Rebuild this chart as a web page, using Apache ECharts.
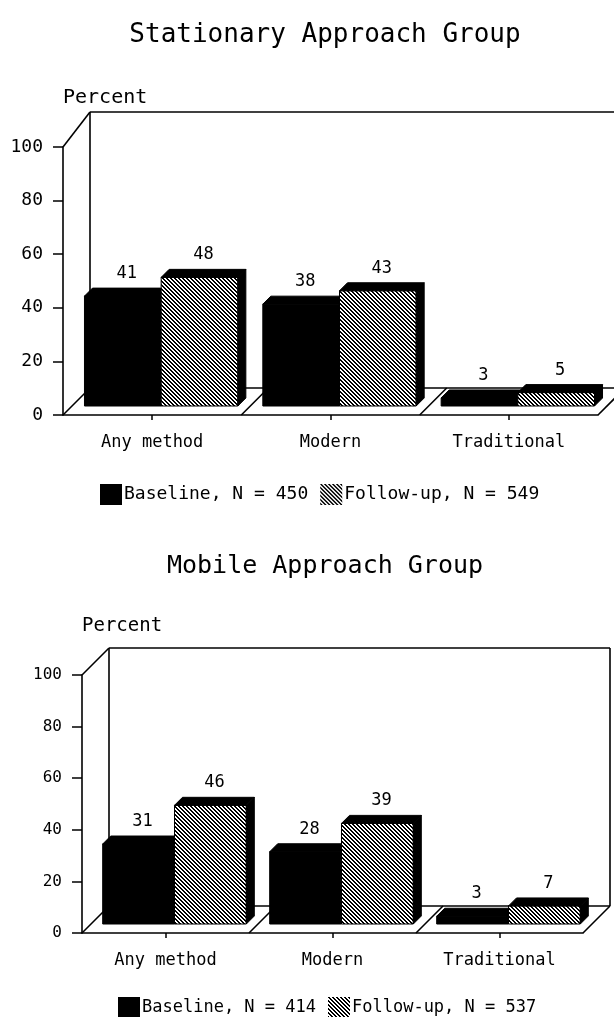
<!DOCTYPE html>
<html><head><meta charset="utf-8">
<script src="https://cdn.jsdelivr.net/npm/echarts@6/dist/echarts.min.js"></script>
<style>html,body{margin:0;padding:0;background:#fff}#c{width:614px;height:1017px}</style>
</head><body><div id="c"></div>
<script>
// ---- data ----
const categories = ['Any method', 'Modern', 'Traditional'];
const stationaryBaseline = [41, 38, 3];
const stationaryFollowup = [48, 43, 5];
const mobileBaseline = [31, 28, 3];
const mobileFollowup = [46, 39, 7];
const yMin = 0, yMax = 100, yInterval = 20;
const panelTitles = ['Stationary Approach Group', 'Mobile Approach Group'];
const yName = 'Percent';
const stationaryNames = ['Baseline, N = 450', 'Follow-up, N = 549'];
const mobileNames = ['Baseline, N = 414', 'Follow-up, N = 537'];

// ---- styling ----
const FONT = 'DejaVu Sans Mono';
function makeHatch() {
  const c = document.createElement('canvas'); c.width = 4; c.height = 4;
  const g = c.getContext('2d');
  g.fillStyle = '#fff'; g.fillRect(0, 0, 4, 4); g.fillStyle = '#000';
  for (let y = 0; y < 4; y++) for (let x = 0; x < 4; x++) {
    if ((((x - y) % 4) + 4) % 4 < 2) g.fillRect(x, y, 1, 1);
  }
  return c;
}
const HATCH = { image: makeHatch(), repeat: 'repeat' };
const BLACK = '#000';

function boxRender(depth, wallTop) {
  return function (params, api) {
    const bw = api.size([1, 0])[0];
    const n = categories.length;
    const c0 = api.coord([0, yMin]);
    const xL = c0[0] - bw / 2, xR = xL + bw * n;
    const y0 = c0[1];
    const yT = api.coord([0, yMax])[1];
    const yW = api.coord([0, wallTop])[1];
    const dx = depth[0], dy = depth[1];
    const ls = { stroke: '#000', lineWidth: 1.6, fill: null };
    const L = (x1, y1, x2, y2) => ({ type: 'line', shape: { x1, y1, x2, y2 }, style: ls });
    const ch = [
      L(xL + dx, y0 + dy, xL + dx, yW + dy),
      L(xL + dx, yW + dy, xR + dx, yW + dy),
      L(xR + dx, y0 + dy, xR + dx, yW + dy),
      L(xL + dx, y0 + dy, xR + dx, y0 + dy),
      L(xL, yT, xL + dx, yW + dy),
      L(xL, y0, xL + dx, y0 + dy),
      L(xR, y0, xR + dx, y0 + dy)
    ];
    for (let i = 1; i < n; i++) {
      const xb = xL + bw * i;
      ch.push(L(xb, y0, xb + dx, y0 + dy));
    }
    return { type: 'group', children: ch };
  };
}

function barRender(si, shift, d, labelSize) {
  return function (params, api) {
    const i = api.value(0), v = api.value(1);
    const bw = api.size([1, 0])[0];
    const w = bw * 0.43;
    const c = api.coord([i, 0]);
    const t = api.coord([i, v]);
    const x0 = c[0] - w + si * w + shift[0], x1 = x0 + w;
    const yb = c[1] + shift[1], yt = t[1] + shift[1];
    return {
      type: 'group',
      children: [
        { type: 'rect', shape: { x: x0, y: yt, width: w, height: yb - yt },
          style: { fill: si ? HATCH : BLACK, stroke: BLACK, lineWidth: 1 } },
        { type: 'polygon', shape: { points: [[x0, yt], [x0 + d, yt - d], [x1 + d, yt - d], [x1, yt]] },
          style: { fill: BLACK, stroke: BLACK, lineWidth: 1 } },
        { type: 'polygon', shape: { points: [[x1, yt], [x1 + d, yt - d], [x1 + d, yb - d], [x1, yb]] },
          style: { fill: BLACK, stroke: BLACK, lineWidth: 1 } },
        { type: 'text', x: (x0 + x1) / 2 + d / 2, y: yt - d - 6,
          style: { text: String(v), fill: '#000', font: labelSize + 'px "' + FONT + '"', align: 'center', verticalAlign: 'bottom' } }
      ]
    };
  };
}

const panels = [
  { grid: { left: 63, top: 147, width: 535, height: 268 }, base: stationaryBaseline, fol: stationaryFollowup,
    names: stationaryNames, title: panelTitles[0], titleTop: 17, titleSize: 26, legendTop: 479, legendLeft: 95,
    fs: 18, legendFs: 18, nameFs: 20, wallTop: 103 },
  { grid: { left: 82, top: 675, width: 501, height: 258 }, base: mobileBaseline, fol: mobileFollowup,
    names: mobileNames, title: panelTitles[1], titleTop: 549, titleSize: 25, legendTop: 992, legendLeft: 113,
    fs: 16, legendFs: 17, nameFs: 19, wallTop: 100 }
];

const depth = [27, -27];
const barShift = [9, -9];
const barDepth = 8;

const option = {
  animation: false,
  backgroundColor: '#fff',
  title: panels.map(p => ({
    text: p.title, left: 320, top: p.titleTop, textAlign: 'center',
    textStyle: { fontFamily: FONT, fontSize: p.titleSize, fontWeight: 'normal', color: '#000' }
  })),
  legend: panels.map(p => ({
    data: [{ name: p.names[0], itemStyle: { color: BLACK } }, { name: p.names[1], itemStyle: { color: HATCH } }],
    left: p.legendLeft, top: p.legendTop, icon: 'rect', itemWidth: 22, itemHeight: 21, itemGap: 12,
    selectedMode: false,
    textStyle: { fontFamily: FONT, fontSize: p.legendFs, color: '#000', padding: [0, 0, 0, -3] }
  })),
  grid: panels.map(p => p.grid),
  xAxis: panels.map((p, k) => ({
    type: 'category', gridIndex: k, data: categories,
    axisLine: { show: true, lineStyle: { color: '#000', width: 1.6 } },
    axisTick: { show: true, alignWithLabel: true, length: 5, lineStyle: { color: '#000', width: 1.5 } },
    axisLabel: { fontFamily: FONT, fontSize: 17, color: '#000', margin: 19 },
    splitLine: { show: false }
  })),
  yAxis: panels.map((p, k) => ({
    type: 'value', gridIndex: k, min: yMin, max: yMax, interval: yInterval,
    name: yName, nameLocation: 'end', nameGap: 49,
    nameTextStyle: { fontFamily: FONT, fontSize: p.nameFs, color: '#000', align: 'left', verticalAlign: 'middle' },
    axisLine: { show: true, lineStyle: { color: '#000', width: 1.6 } },
    axisTick: { show: true, length: 10, lineStyle: { color: '#000', width: 1.5 } },
    axisLabel: { fontFamily: FONT, fontSize: p.fs, color: '#000', margin: 20 },
    splitLine: { show: false }
  })),
  series: []
};

panels.forEach((p, k) => {
  option.series.push({
    type: 'custom', name: 'box' + k, xAxisIndex: k, yAxisIndex: k, silent: true, z: 1, clip: false,
    data: [[0, 0]], encode: { x: 0, y: 1 }, renderItem: boxRender(depth, p.wallTop)
  });
  [p.base, p.fol].forEach((vals, si) => {
    option.series.push({
      type: 'custom', name: p.names[si], xAxisIndex: k, yAxisIndex: k, z: 2, clip: false,
      itemStyle: { color: si ? HATCH : BLACK },
      data: vals.map((v, i) => [i, v]), encode: { x: 0, y: 1 },
      renderItem: barRender(si, barShift, barDepth, 17)
    });
  });
});

const chart = echarts.init(document.getElementById('c'), null, { renderer: 'canvas' });
chart.setOption(option);
</script>
</body></html>
